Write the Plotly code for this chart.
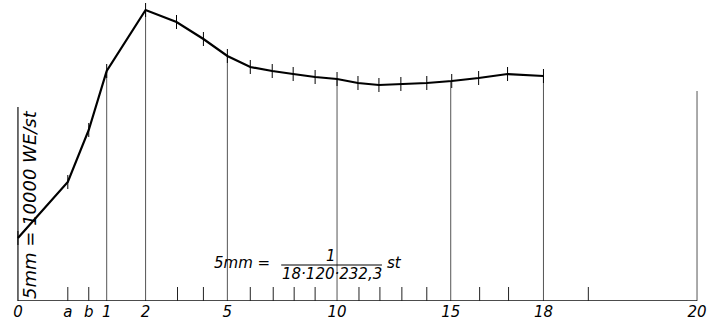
import plotly.graph_objects as go
import numpy as np

# x positions of the time scale (chart units along the drawn axis) and their labels
tick_pos = [0, 50, 71, 89, 128, 210, 320, 434, 527, 681]
tick_labels = ["0", "a", "b", "1", "2", "5", "10", "15", "18", "20"]

# intermediate scale marks on the axis
minor_pos = [160, 186, 233, 256, 277, 298, 342, 363, 385, 410, 463, 492, 572]

# full-height hour lines
major_pos = [89, 128, 210, 320, 434, 527, 681]

# measured curve (heat output, chart units; 5 mm = 10000 WE/st)
curve_x = [0, 50, 71, 89, 128, 159, 186, 210, 233, 255, 276, 298, 320,
           341, 362, 384, 410, 435, 462, 491, 527]
curve_y = [63, 119, 171, 230, 291, 279, 262, 245, 234, 230, 227, 224, 222,
           218, 216, 217, 218, 220, 223, 227, 225]

# height of the closing line at 20 and of the ordinate axis
end_line_top = 210
axis_top = 194

FONT = "DejaVu Sans"

fig = go.Figure()

# vertical hour lines up to the curve
for xp in major_pos:
    if xp <= curve_x[-1]:
        top = float(np.interp(xp, curve_x, curve_y))
    else:
        top = end_line_top
    fig.add_trace(go.Scatter(x=[xp, xp], y=[0, top], mode="lines",
                             line=dict(color="#555", width=1), hoverinfo="skip",
                             cliponaxis=False))

# ordinate axis
fig.add_trace(go.Scatter(x=[0, 0], y=[0, axis_top], mode="lines",
                         line=dict(color="#222", width=1.3), cliponaxis=False))

# baseline
fig.add_trace(go.Scatter(x=[0, tick_pos[-1]], y=[0, 0], mode="lines",
                         line=dict(color="#111", width=1.6), cliponaxis=False))

# small marks on the axis
for xp in [50, 71] + minor_pos:
    fig.add_trace(go.Scatter(x=[xp, xp], y=[0, 14], mode="lines",
                             line=dict(color="#222", width=1), cliponaxis=False))

# curve
fig.add_trace(go.Scatter(x=curve_x, y=curve_y, mode="lines+markers",
                         line=dict(color="black", width=2.2),
                         marker=dict(symbol="line-ns", size=10,
                                     line=dict(color="black", width=1)),
                         cliponaxis=False))

# fraction bar of the time scale note
fig.add_trace(go.Scatter(x=[264, 365], y=[36, 36], mode="lines",
                         line=dict(color="black", width=1.2)))

afont = dict(family=FONT, size=15, color="black", style="italic")
fig.add_annotation(x=11, y=97, text="5mm = 10000 WE/st", textangle=-90,
                   showarrow=False, font=dict(family=FONT, size=18, color="black", style="italic"))
fig.add_annotation(x=225, y=38, text="5mm =", showarrow=False, font=afont)
fig.add_annotation(x=314, y=45, text="1", showarrow=False, font=afont)
fig.add_annotation(x=315, y=27, text="18·120·232,3", showarrow=False, font=afont)
fig.add_annotation(x=378, y=38, text="st", showarrow=False, font=afont)

fig.update_layout(
    width=707, height=327,
    margin=dict(l=0, r=0, t=0, b=26),
    paper_bgcolor="white", plot_bgcolor="white",
    showlegend=False,
    xaxis=dict(range=[-18, 689], tickvals=tick_pos, ticktext=tick_labels,
               showgrid=False, zeroline=False, showline=False, ticks="",
               ticklabeloverflow="allow",
               tickfont=dict(family=FONT, size=15, color="black", style="italic")),
    yaxis=dict(range=[0, 301], showgrid=False, zeroline=False, showline=False,
               showticklabels=False, ticks=""),
)

fig.write_html("out.html", config={"displayModeBar": False},
               post_script="document.body.style.margin='0';document.body.style.overflow='hidden';")
